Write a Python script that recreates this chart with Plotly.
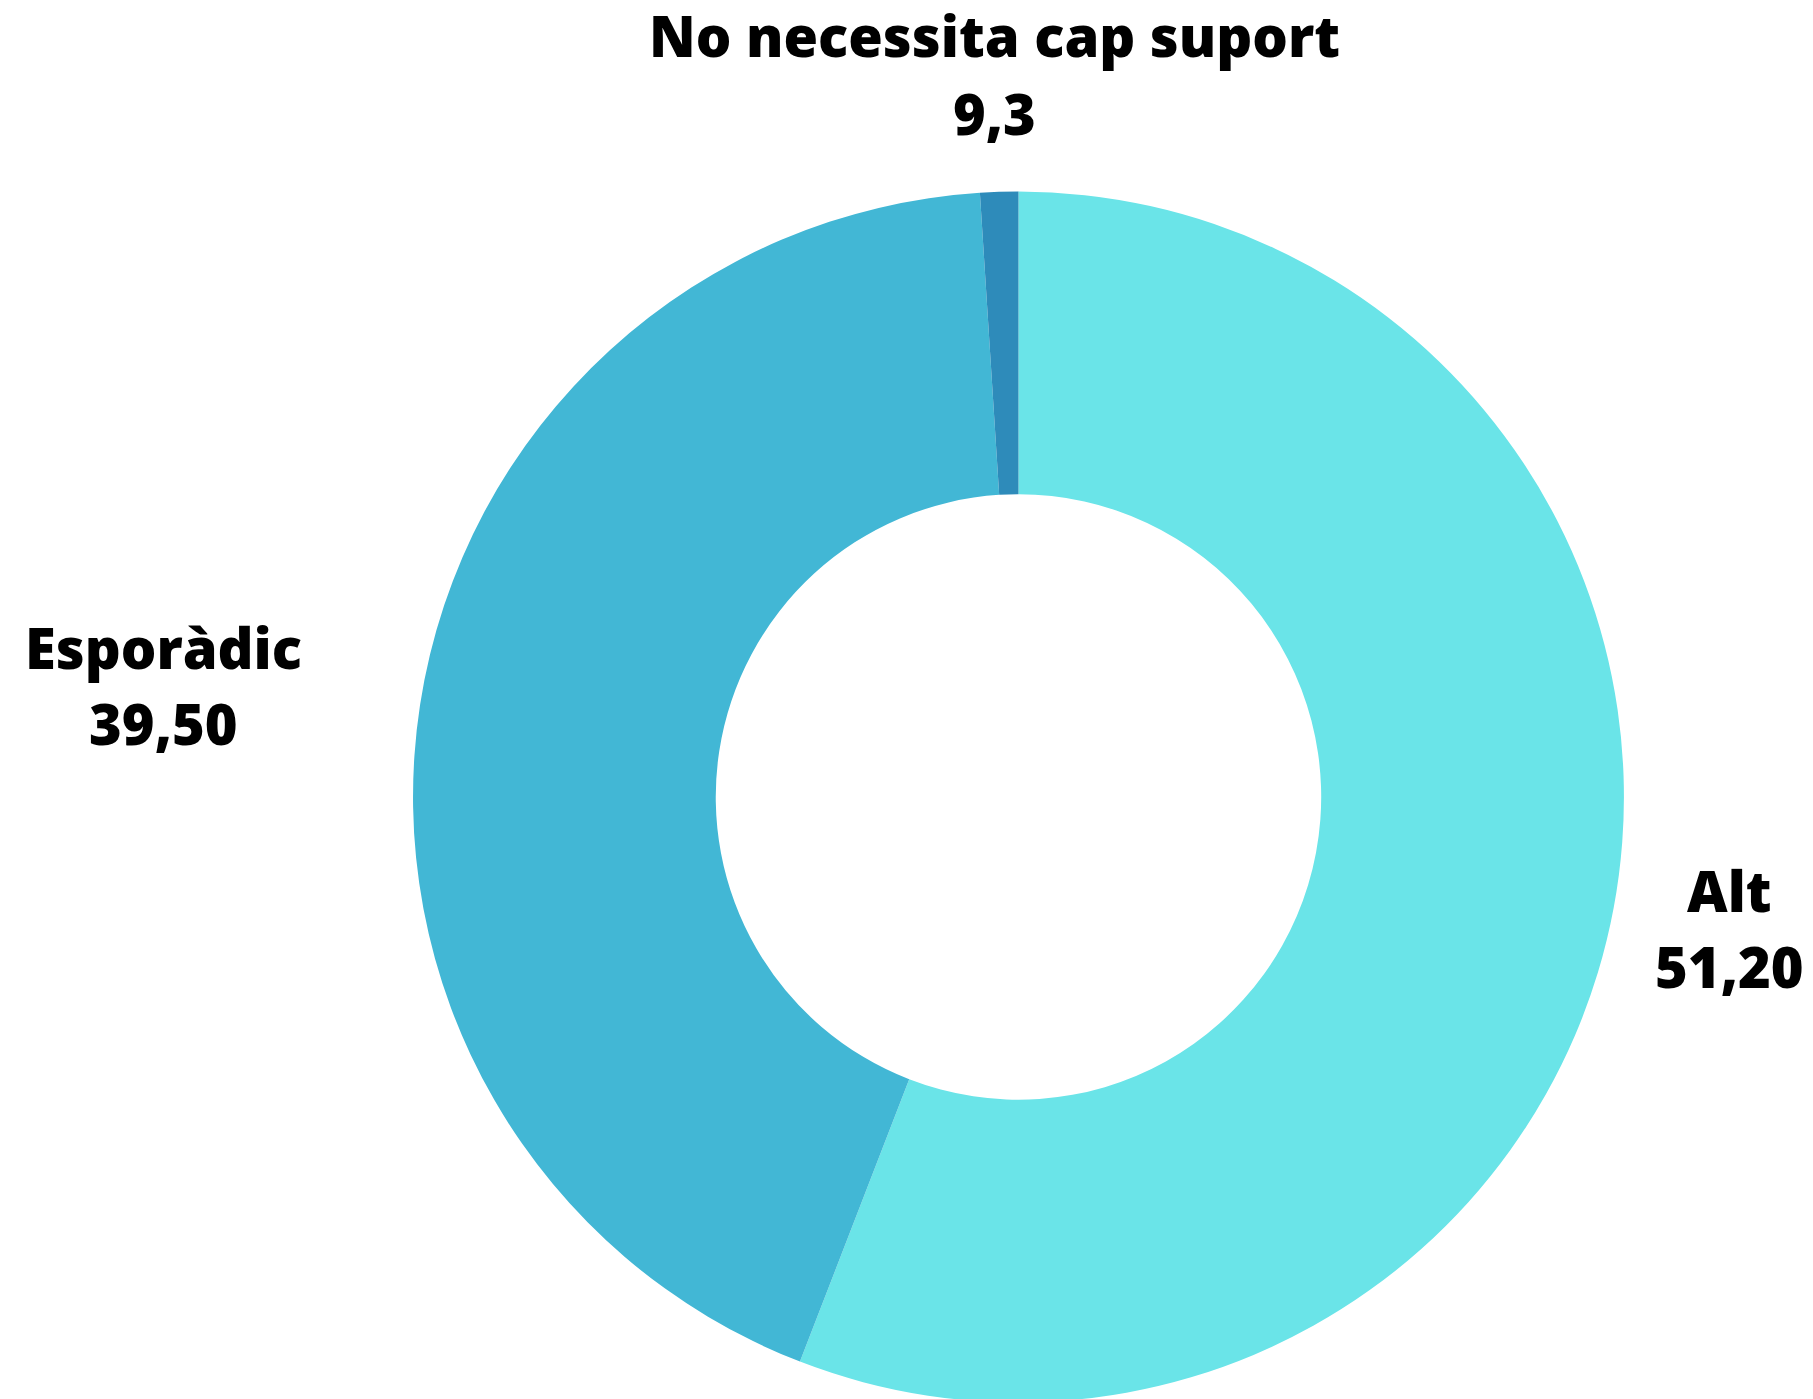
import plotly.graph_objects as go

categories = ["Alt", "Esporàdic", "No necessita cap suport"]
values = [51.2, 39.5, 0.93]
value_labels = ["51,20", "39,50", "9,3"]
colors = ["#6ae4e8", "#42b7d5", "#2e8bba"]

# label placement (paper coords) for each category: (x, y of name line, y of value line)
label_pos = {
    "Alt": (0.9493, 0.3693, 0.3150),
    "Esporàdic": (0.0855, 0.5430, 0.4887),
    "No necessita cap suport": (0.5439, 0.9805, 0.9247),
}

fig = go.Figure(
    go.Pie(
        labels=categories,
        values=values,
        text=value_labels,
        hole=0.5,
        sort=False,
        direction="clockwise",
        rotation=0,
        marker=dict(colors=colors, line=dict(width=0)),
        textinfo="none",
        domain=dict(x=[0.2234, 0.8913], y=[0.0032, 0.8689]),
        showlegend=False,
        hoverinfo="label+text",
    )
)

label_font = dict(family="Open Sans", size=56, color="#000000", weight=800)
for cat, txt in zip(categories, value_labels):
    x, y1, y2 = label_pos[cat]
    fig.add_annotation(x=x, y=y1, xref="paper", yref="paper", text=cat,
                       showarrow=False, xanchor="center", yanchor="middle", font=label_font)
    fig.add_annotation(x=x, y=y2, xref="paper", yref="paper", text=txt,
                       showarrow=False, xanchor="center", yanchor="middle", font=label_font)

fig.update_layout(
    width=1813,
    height=1399,
    margin=dict(l=0, r=0, t=0, b=0),
    paper_bgcolor="white",
    plot_bgcolor="white",
    showlegend=False,
)

fig.write_html("out.html")
